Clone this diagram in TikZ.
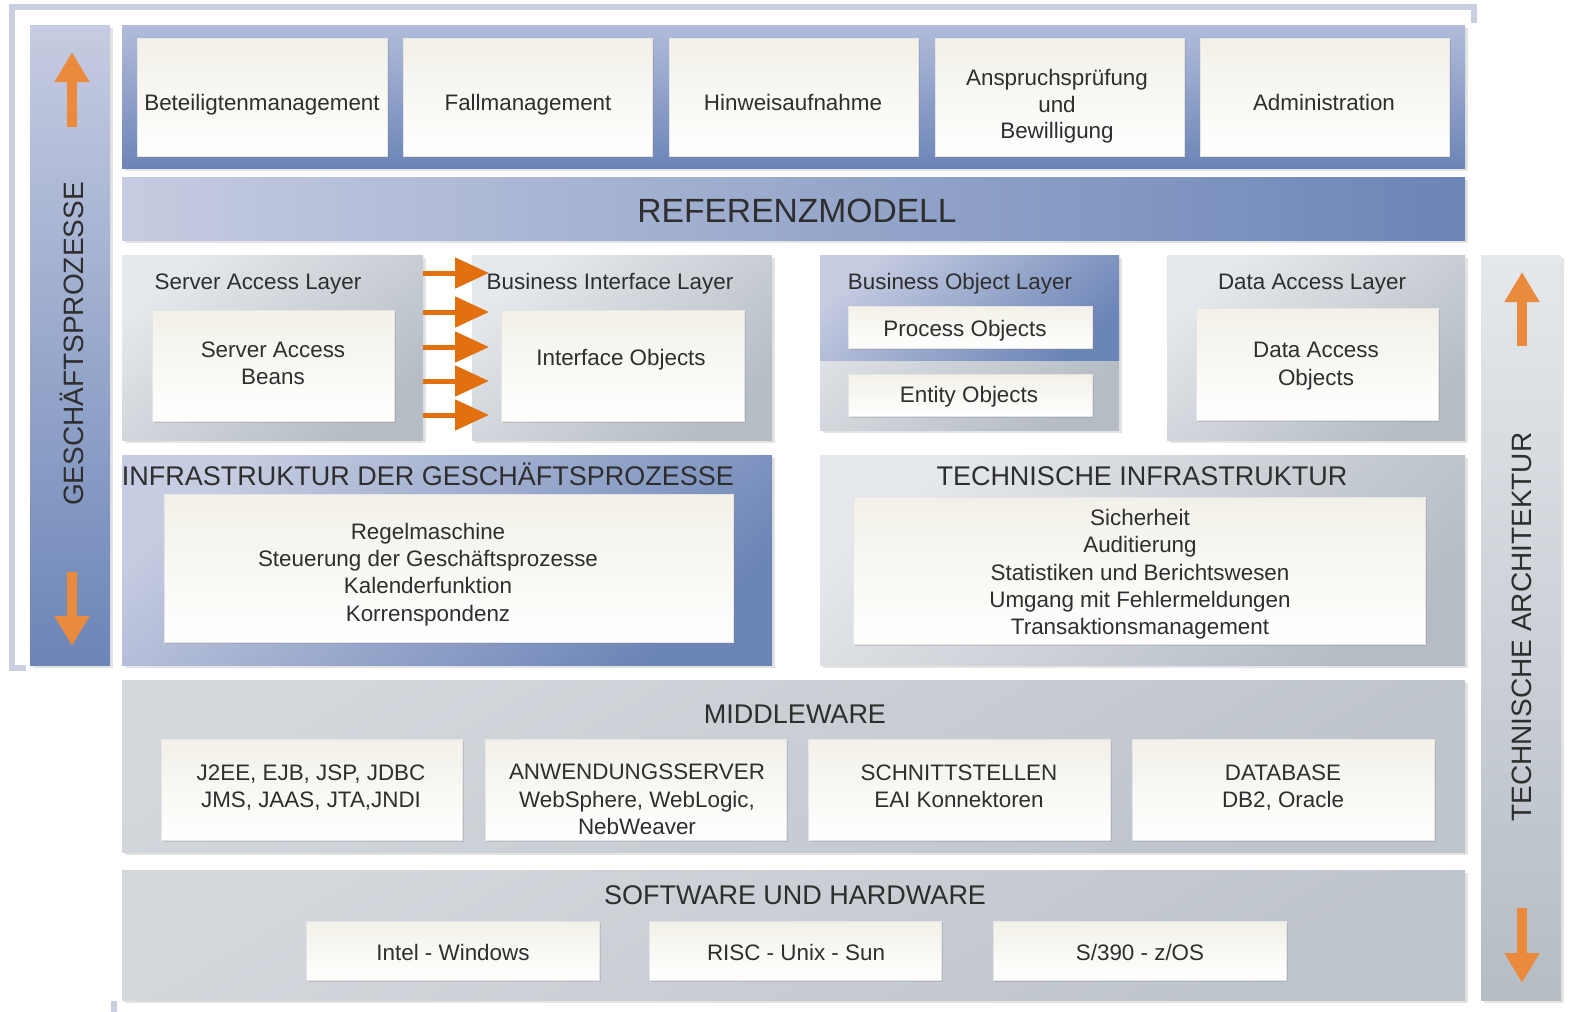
\documentclass[tikz,border=0pt]{standalone}
\usepackage{fontspec}
\setmainfont{Liberation Sans}
\usetikzlibrary{arrows.meta,fit,shadows}

\definecolor{txt}{HTML}{2E2E2E}
\definecolor{orA}{HTML}{E98A3C}
\definecolor{orB}{HTML}{E3700F}
\definecolor{blL}{HTML}{C6CCE1}
\definecolor{blM}{HTML}{B2BCDA}
\definecolor{blD}{HTML}{6C85B7}
\definecolor{grL}{HTML}{E5E8EC}
\definecolor{grD}{HTML}{B5BCC4}
\definecolor{grM}{HTML}{D4D8DD}
\definecolor{grN}{HTML}{BEC4CB}
\definecolor{wbT}{HTML}{F2F0E8}
\definecolor{frm}{HTML}{C9CEE0}

\begin{document}
\begin{tikzpicture}[x=0.5pt,y=-0.5pt,
  every node/.style={text=txt, font=\fontsize{11.2}{13.7}\selectfont},
  dshadow/.style={drop shadow={opacity=0.22, shadow xshift=1.3pt, shadow yshift=-1.3pt}},
  rect/.style={inner sep=0pt, outer sep=0pt},
  bluepanel/.style={rect, top color=blL, bottom color=blD, shading angle=40, dshadow},
  bluebar/.style={rect, top color=blL, bottom color=blD, dshadow},
  blueband/.style={rect, left color=blL, right color=blD, dshadow},
  graypanel/.style={rect, top color=grL, bottom color=grD, shading angle=40, dshadow},
  grayband/.style={rect, top color=grM, bottom color=grN, shading angle=30, dshadow},
  graybar/.style={rect, top color=grL, bottom color=grD, dshadow},
  wbox/.style={rect, top color=wbT, bottom color=white, draw=black!10, line width=0.3pt,
    drop shadow={opacity=0.25, shadow xshift=1.2pt, shadow yshift=-1.2pt}},
  lbl/.style={inner sep=0pt, align=center, yshift=-1.25pt,
    execute at begin node=\strut, execute at end node=\strut},
  ml/.style={lbl, yshift=-1.3pt},
  ttl/.style={font=\fontsize{13.5}{16}\selectfont, anchor=base},
  sttl/.style={anchor=base},
  rowarrow/.style={draw=orB, line width=2.5pt, -{Triangle[length=17pt,width=15pt]}, orB},
  vertarrow/.style={draw=orA, line width=4.6pt, -{Triangle[length=15pt,width=16.5pt]}, orA},
  frmline/.style={draw=frm, line width=2.6pt}
]
\useasboundingbox (0,0) rectangle (1570,1012);
\fill[white] (0,0) rectangle (1570,1012);

% outer bracket frame
\draw[frmline] (26,668) -- (12,668) -- (12,7) -- (1474,7) -- (1474,23);
\draw[frmline] (114,1001) -- (114,1012);

% left bar
\node[bluebar, fit={(30,25)(110,665)}] (gp) {};
\node[rotate=90, font=\fontsize{14}{16}\selectfont] (gpt) at (72,344) {GESCHÄFTSPROZESSE};
\coordinate (gpu1) at (72,127); \coordinate (gpu2) at (72,52);
\coordinate (gpd1) at (72,572); \coordinate (gpd2) at (72,646);
\draw[vertarrow] (gpu1) -- (gpu2);
\draw[vertarrow] (gpd1) -- (gpd2);

% top panel with processes
\node[bluepanel, top color=blM, fit={(122,25)(1465,168)}] (top) {};
\node[wbox, fit={(137,38)(387,156)}] (b1) {};
\node[wbox, fit={(403,38)(652,156)}] (b2) {};
\node[wbox, fit={(669,38)(918,156)}] (b3) {};
\node[wbox, fit={(935,38)(1184,156)}] (b4) {};
\node[wbox, fit={(1200,38)(1449,156)}] (b5) {};
\node[lbl] (b1t) at (262,103) {Beteiligtenmanagement};
\node[lbl] (b2t) at (528,103) {Fallmanagement};
\node[lbl] (b3t) at (793,103) {Hinweisaufnahme};
\node[ml, font=\fontsize{11.2}{13.2}\selectfont] (b4t) at (1057,103) {Anspruchsprüfung\\und\\Bewilligung};
\node[lbl] (b5t) at (1324,103) {Administration};

% Referenzmodell
\node[blueband, fit={(122,177)(1465,240)}] (ref) {};
\node[anchor=base, font=\fontsize{16.8}{19}\selectfont] (reft) at (797,222) {REFERENZMODELL};

% Server Access Layer
\node[graypanel, fit={(122,255)(423,440)}] (sal) {};
\node[sttl] (salt) at (258,289) {Server Access Layer};
\node[wbox, fit={(152,310)(394,421)}] (sab) {};
\node[ml] (sabt) at (273,362) {Server Access\\Beans};

% Business Interface Layer
\node[graypanel, fit={(472,255)(772,440)}] (bil) {};
\node[wbox, fit={(501,310)(744,421)}] (io) {};
\node[lbl] (iot) at (621,358) {Interface Objects};

% row arrows
\coordinate (r1) at (489,273);
\coordinate (r2) at (489,312);
\coordinate (r3) at (489,347);
\coordinate (r4) at (489,381);
\coordinate (r5) at (489,415);
\foreach \r in {r1,r2,r3,r4,r5} {\draw[rowarrow] (sal.east |- \r) -- (\r);}
\node[sttl] (bilt) at (610,289) {Business Interface Layer};

% Business Object Layer
\node[graypanel, fit={(820,255)(1119,430)}] (bol) {};
\node[rect, top color=blL, bottom color=blD, shading angle=40, fit={(820,255)(1119,360)}] (bolt) {};
\node[sttl] (bolti) at (960,289) {Business Object Layer};
\node[wbox, fit={(848,306)(1092,348)}] (po) {};
\node[lbl] (pot) at (965,329) {Process Objects};
\node[wbox, fit={(848,374)(1092,416)}] (eo) {};
\node[lbl] (eot) at (969,395) {Entity Objects};

% Data Access Layer
\node[graypanel, fit={(1167,255)(1465,440)}] (dal) {};
\node[sttl] (dalt) at (1312,289) {Data Access Layer};
\node[wbox, fit={(1196,308)(1438,420)}] (dao) {};
\node[ml] (daot) at (1316,363) {Data Access\\Objects};

% Infrastruktur der Geschaeftsprozesse
\node[bluepanel, fit={(122,455)(772,665)}] (igp) {};
\node[ttl] (igpt) at (428,485) {INFRASTRUKTUR DER GESCHÄFTSPROZESSE};
\node[wbox, fit={(164,494)(733,642)}] (igpb) {};
\node[ml] (igpbt) at (428,571) {Regelmaschine\\Steuerung der Geschäftsprozesse\\Kalenderfunktion\\Korrenspondenz};

% Technische Infrastruktur
\node[graypanel, fit={(820,455)(1465,665)}] (ti) {};
\node[ttl] (tit) at (1142,485) {TECHNISCHE INFRASTRUKTUR};
\node[wbox, fit={(853,497)(1425,644)}] (tib) {};
\node[ml] (tibt) at (1140,571) {Sicherheit\\Auditierung\\Statistiken und Berichtswesen\\Umgang mit Fehlermeldungen\\Transaktionsmanagement};

% Middleware
\node[grayband, fit={(122,680)(1465,852)}] (mw) {};
\node[ttl] (mwt) at (795,723) {MIDDLEWARE};
\node[wbox, fit={(161,739)(462,840)}] (m1) {};
\node[wbox, fit={(485,739)(786,840)}] (m2) {};
\node[wbox, fit={(808,739)(1110,840)}] (m3) {};
\node[wbox, fit={(1132,739)(1434,840)}] (m4) {};
\node[ml] (m1t) at (311,785) {J2EE, EJB, JSP, JDBC\\JMS, JAAS, JTA,JNDI};
\node[ml] (m2t) at (637,798.5) {ANWENDUNGSSERVER\\WebSphere, WebLogic,\\NebWeaver};
\node[ml] (m3t) at (959,785) {SCHNITTSTELLEN\\EAI Konnektoren};
\node[ml] (m4t) at (1283,785) {DATABASE\\DB2, Oracle};

% Software und Hardware
\node[grayband, fit={(122,870)(1465,1000)}] (sw) {};
\node[ttl] (swt) at (795,904) {SOFTWARE UND HARDWARE};
\node[wbox, fit={(306,921)(599,980)}] (s1) {};
\node[wbox, fit={(649,921)(941,980)}] (s2) {};
\node[wbox, fit={(993,921)(1286,980)}] (s3) {};
\node[lbl] (s1t) at (453,953) {Intel - Windows};
\node[lbl] (s2t) at (796,953) {RISC - Unix - Sun};
\node[lbl] (s3t) at (1140,953) {S/390 - z/OS};

% right bar
\node[graybar, fit={(1481,255)(1561,1000)}] (ta) {};
\node[rotate=90, font=\fontsize{14}{16}\selectfont] (tat) at (1522,627) {TECHNISCHE ARCHITEKTUR};
\coordinate (tau1) at (1522,346); \coordinate (tau2) at (1522,272);
\coordinate (tad1) at (1522,908); \coordinate (tad2) at (1522,983);
\draw[vertarrow] (tau1) -- (tau2);
\draw[vertarrow] (tad1) -- (tad2);
\end{tikzpicture}
\end{document}
